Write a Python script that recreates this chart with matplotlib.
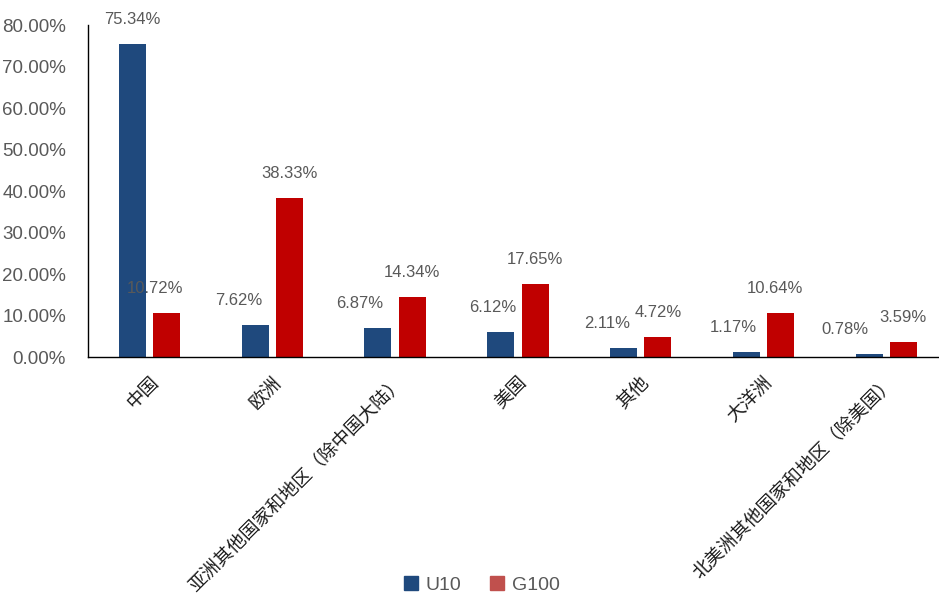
import matplotlib.pyplot as plt
from matplotlib.patches import Patch
from matplotlib.ticker import FuncFormatter
import numpy as np

plt.rcParams['font.family'] = ['Liberation Sans', 'Noto Sans CJK SC', 'DejaVu Sans']

categories = ['中国', '欧洲', '亚洲其他国家和地区（除中国大陆）', '美国', '其他', '大洋洲',
              '北美洲其他国家和地区（除美国）']
u10 = [75.34, 7.62, 6.87, 6.12, 2.11, 1.17, 0.78]
g100 = [10.72, 38.33, 14.34, 17.65, 4.72, 10.64, 3.59]
series_names = ['U10', 'G100']

blue = '#1F497D'
red = '#C00000'
gray = '#595959'

fig = plt.figure(figsize=(9.39, 5.96), dpi=100)
ax = fig.add_axes([0.094, 0.401, 0.906, 0.557])

x = np.arange(len(categories))
w = 0.22
off = 0.14
b1 = ax.bar(x - off, u10, w, color=blue)
b2 = ax.bar(x + off, g100, w, color=red)

# label shifts in pixels, roughly like the excel auto placement
dx_u = [0, -16, -18, -8, -16, -13, -24]
dx_g = [-12, 0, 0, 0, 0, -6, 0]
for bars, vals, dxs in [(b1, u10, dx_u), (b2, g100, dx_g)]:
    for r, v, d in zip(bars, vals, dxs):
        ax.annotate(f'{v:.2f}%', (r.get_x() + r.get_width() / 2, v),
                    xytext=(d, 17), textcoords='offset pixels',
                    ha='center', va='bottom', fontsize=12, color=gray)

ax.set_ylim(0, 80)
ax.set_xlim(-0.5, 6.43)
ax.set_yticks(np.arange(0, 81, 10))
ax.yaxis.set_major_formatter(FuncFormatter(lambda v, p: f'{v:.2f}%'))
ax.tick_params(axis='y', length=0, labelsize=13.5, labelcolor=gray, pad=16)
ax.tick_params(axis='x', length=0, pad=12)
ax.set_xticks(x)
ax.set_xticklabels(categories, rotation=45, ha='right', rotation_mode='anchor',
                   fontsize=13.3, color='#1a1a1a',
                   family=['Noto Sans CJK SC', 'DejaVu Sans'])
for s in ['top', 'right']:
    ax.spines[s].set_visible(False)
ax.spines['left'].set_color('black')
ax.spines['bottom'].set_color('black')
ax.spines['left'].set_linewidth(1.0)
ax.spines['bottom'].set_linewidth(1.0)

handles = [Patch(color=blue), Patch(color='#C0504D')]
fig.legend(handles, series_names, loc='center', bbox_to_anchor=(0.513, 0.018),
           ncol=2, frameon=False, fontsize=14, labelcolor=gray,
           handlelength=0.7, handleheight=0.7, handletextpad=0.4, columnspacing=1.5)

fig.savefig('out.png', dpi=100)
